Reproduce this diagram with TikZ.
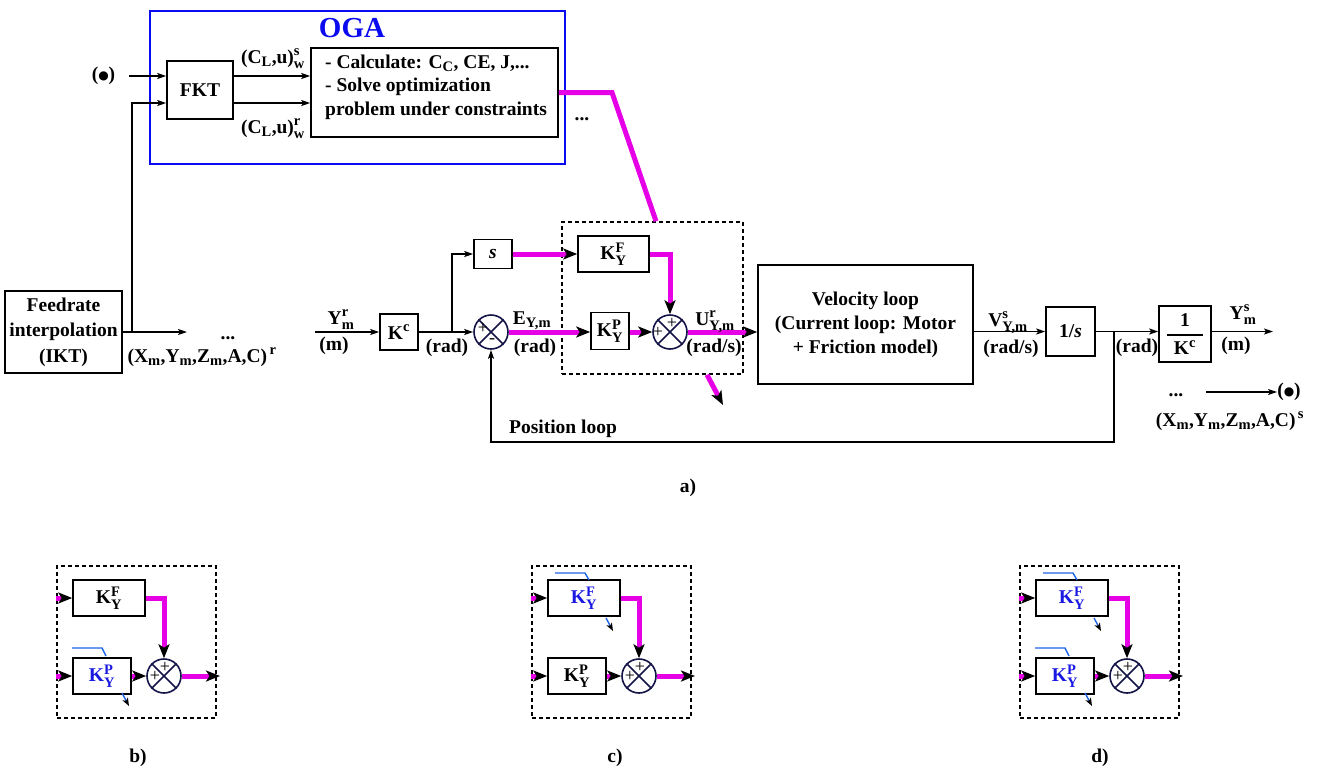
\documentclass[tikz,border=0pt]{standalone}
\usepackage{fontspec}
\setmainfont{Liberation Serif}
\newfontfamily\dejavu{DejaVu Sans}
\usepackage{amsmath}
\DeclareMathSizes{19.5}{19.5}{14.5}{11}
\usetikzlibrary{arrows.meta}
\definecolor{mag}{RGB}{230,0,230}
\definecolor{ogablue}{RGB}{10,10,240}
\definecolor{hookblue}{RGB}{30,100,230}
\definecolor{kblue}{RGB}{25,25,225}
\definecolor{sumc}{RGB}{20,20,70}
\newcommand{\dfnt}{\bfseries\fontsize{19.5}{22}\selectfont}
\newcommand{\KF}{$\text{K}^{\text{F}}_{\text{Y}}$}
\newcommand{\KP}{$\text{K}^{\text{P}}_{\text{Y}}$}
\newcommand{\bigdot}{(\raisebox{1pt}{\dejavu\fontsize{12}{12}\selectfont ●})}
\newcommand{\sumx}[1]{\draw[sumc, line width=1.5pt] (#1.north west) -- (#1.south east) (#1.north east) -- (#1.south west);}
\newcommand{\hkF}{\draw[hookln] (80,573) -- (110,573) -- (114,580); \draw[hooka] (131,618) -- (138,631);}
\newcommand{\hkP}{\draw[hookln] (72,648) -- (102,648) -- (106,656); \draw[hooka] (122,693) -- (129,706);}
\newcommand{\mypanel}[5]{%
\begin{scope}[xshift=#2]
\node[dbox, minimum width=159pt, minimum height=152pt] (#1box) at (136.5,642) {};
\node[box, minimum width=72pt, minimum height=36pt, text=#3] (#1kf) at (109,598) {\KF};
\node[box, minimum width=58pt, minimum height=36pt, text=#4] (#1kp) at (102,676) {\KP};
\node[sumj] (#1s) at (164,676) {};
\sumx{#1s}
\node[plus] (#1pa) at (155,676) {+};
\node[plus] (#1pb) at (165,667) {+};
\coordinate (#1o) at (220,676);
\draw[marr] (#1box.west |- #1kf) -- (#1kf.west);
\draw[marr] (#1box.west |- #1kp) -- (#1kp.west);
\draw[marr] (#1kf.east) -| (#1s.north);
\draw[marr] (#1kp.east) -- (#1s.west);
\draw[marr] (#1s.east) -- (#1o);
#5
\end{scope}}
\begin{document}
\begin{tikzpicture}[x=1pt,y=-1pt,
  every node/.style={font=\dfnt, inner sep=0pt},
  box/.style={draw, line width=1.6pt, inner sep=0pt},
  arr/.style={line width=1.5pt, -{Stealth[length=9pt,width=6pt,inset=2pt]}},
  marr/.style={mag, line width=5pt, -{Stealth[length=14pt,width=11pt,inset=3.5pt,black]}},
  mln/.style={mag, line width=5pt},
  sumj/.style={circle, draw=sumc, line width=1.6pt, minimum size=34pt, inner sep=0pt},
  dbox/.style={draw, line width=1.6pt, dash pattern=on 4pt off 3pt},
  plus/.style={font=\fontsize{18}{18}\selectfont, text=black},
  hookln/.style={hookblue, line width=1.4pt},
  hooka/.style={hookblue, line width=1.4pt, -{Stealth[length=8pt,width=6pt,inset=2pt,black]}},
]
\useasboundingbox (0,0) rectangle (1323,769);

% ---------- OGA ----------
\node[draw=ogablue, line width=1.6pt, minimum width=415pt, minimum height=153pt] (oga) at (357.5,87.5) {};
\node[anchor=base, text=ogablue, font=\bfseries\fontsize{29}{30}\selectfont] (ogat) at (352,37) {OGA};
\node[box, minimum width=66pt, minimum height=58pt] (fkt) at (200,90) {FKT};
\node[box, minimum width=247pt, minimum height=89pt] (calc) at (434.5,92.5) {};
\node[anchor=base west] (c1) at (325,68) {- Calculate: C$_\text{C}$, CE, J,...};
\node[anchor=base west] (c2) at (325,91) {- Solve optimization};
\node[anchor=base west] (c3) at (325,115) {problem under constraints};
\node (bul1) at (103.5,76) {\bigdot};
\coordinate (r2) at (0,103);
\coordinate (b1s) at (129,76);
\draw[arr] (b1s) -- (b1s -| fkt.west);
\draw[arr] (fkt.east |- b1s) -- (calc.west |- b1s);
\draw[arr] (fkt.east |- r2) -- (calc.west |- r2);
\node[anchor=base] (cls) at (273,63) {(C$_\text{L}$,u)$^\text{s}_\text{w}$};
\node[anchor=base] (clr) at (273,133) {(C$_\text{L}$,u)$^\text{r}_\text{w}$};
\node[anchor=base] (dots0) at (582,120) {...};

% ---------- Feedrate ----------
\node[box, minimum width=117pt, minimum height=82pt, align=center, font=\bfseries\fontsize{19.5}{25.5}\selectfont] (feed) at (63.5,332) {Feedrate\\interpolation\\(IKT)};
\coordinate (fb) at (132,332);
\coordinate (feedend) at (187,332);
\draw[arr] (feed.east) -- (feedend);
\draw[arr] (fb) |- (fkt.west |- r2);
\node[anchor=base] (dots1) at (228,339) {...};
\node[anchor=base] (xr) at (202,362) {(X$_\text{m}$,Y$_\text{m}$,Z$_\text{m}$,A,C)$^{\,\text{r}}$};

% ---------- main loop ----------
\coordinate (yin) at (315,332);
\node[box, minimum width=38pt, minimum height=36pt] (kc) at (399,332) {K$^\text{c}$};
\node[sumj] (s1) at (491,332) {};
\sumx{s1}
\node[plus] (s1p) at (483,328) {+};
\node[plus] (s1m) at (492,341) {-};
\node[box, minimum width=38pt, minimum height=29pt] (sbox) at (493,254) {\textit{s}};
\node[box, minimum width=71pt, minimum height=36pt] (kf) at (613.5,254) {\KF};
\node[box, minimum width=38pt, minimum height=37pt] (kp) at (610,331) {\KP};
\node[sumj] (s2) at (670,332) {};
\sumx{s2}
\node[plus] (s2a) at (658,332) {+};
\node[plus] (s2b) at (672,323) {+};
\node[dbox, minimum width=181pt, minimum height=152pt] (dash1) at (652.5,298) {};
\node[box, minimum width=215pt, minimum height=119pt, align=center, font=\bfseries\fontsize{19.5}{24}\selectfont] (vel) at (865.5,324.5) {Velocity loop\\(Current loop: Motor\\+ Friction model)};
\node[box, minimum width=49pt, minimum height=49pt] (int) at (1070.5,331.5) {1/\textit{s}};
\node[box, minimum width=52pt, minimum height=56pt] (ikc) at (1185,334) {$\genfrac{}{}{1.6pt}{0}{\text{1}}{\text{\makebox[36pt]{K$^{\text{c}}$}}}$};
\coordinate (br1) at (452,332);
\coordinate (br2) at (1114,331.5);
\coordinate (yout) at (1273,331.5);
\coordinate (fbc) at (1114,442);
\coordinate (mk) at (612,92);
\coordinate (dashout) at (723,405);

\draw[arr] (yin) -- (kc.west);
\draw[arr] (kc.east) -- (s1.west);
\draw[arr] (br1) |- (sbox.west);
\draw[marr] (sbox.east) -- (kf.west);
\draw[marr] (s1.east) -- (s1.east -| kp.west);
\draw[marr] (kp.east |- s2) -- (s2.west);
\draw[marr] (kf.east) -| (s2.north);
\draw[marr] (s2.east) -- (s2.east -| vel.west);
\draw[arr] (vel.east |- int) -- (int.west);
\draw[arr] (int.east) -- (int.east -| ikc.west);
\draw[arr] (int.east -| ikc.east) -- (yout);
\draw[arr] (br2) -- (fbc) -| (s1.south);
\draw[mln] (calc.east) -- (calc.east -| mk) -- ([xshift=3.5pt]dash1.north);
\draw[marr] ([xshift=54.5pt]dash1.south) -- (dashout);

\node[anchor=base] (lym) at (341,324) {Y$^\text{r}_\text{m}$};
\node[anchor=base] (lm1) at (334,350) {(m)};
\node[anchor=base] (lrad1) at (447,352) {(rad)};
\node[anchor=base] (le) at (532,324) {E$_\text{Y,m}$};
\node[anchor=base] (lrad2) at (535,352) {(rad)};
\node[anchor=base] (lu) at (715,325) {U$^\text{r}_\text{Y,m}$};
\node[anchor=base] (lrads1) at (714,352) {(rad/s)};
\node[anchor=base] (lv) at (1008,326) {V$^\text{s}_\text{Y,m}$};
\node[anchor=base] (lrads2) at (1011,353) {(rad/s)};
\node[anchor=base] (lrad3) at (1137,352) {(rad)};
\node[anchor=base] (lys) at (1243,319) {Y$^\text{s}_\text{m}$};
\node[anchor=base] (lm2) at (1236,350) {(m)};
\node[anchor=base] (lpos) at (563,433) {Position loop};
\node[anchor=base] (dots2) at (1176,396) {...};
\node (bul2) at (1289,392) {\bigdot};
\coordinate (da) at (1206,392);
\draw[arr] (da) -- (bul2.west);
\node[anchor=base] (xs) at (1230,426) {(X$_\text{m}$,Y$_\text{m}$,Z$_\text{m}$,A,C)$^{\,\text{s}}$};
\node[anchor=base] (la) at (688,492) {a)};

% ---------- panels ----------
\mypanel{pb}{0pt}{black}{kblue}{\hkP}
\mypanel{pc}{475pt}{kblue}{black}{\hkF}
\mypanel{pd}{963pt}{kblue}{kblue}{\hkF\hkP}
\node[anchor=base] (lb) at (138,762) {b)};
\node[anchor=base] (lc) at (615,762) {c)};
\node[anchor=base] (ld) at (1100,762) {d)};
\end{tikzpicture}
\end{document}
